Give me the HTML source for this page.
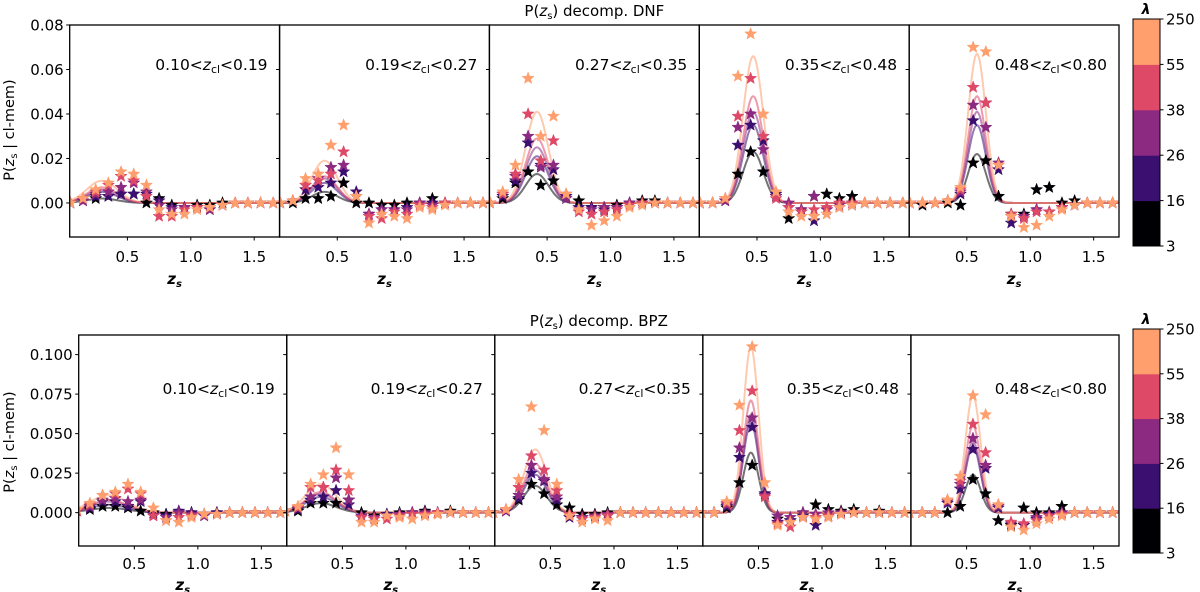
<!DOCTYPE html>
<html><head><meta charset="utf-8"><style>
html,body{margin:0;padding:0;background:#fff;}
svg{display:block;font-family:"DejaVu Sans","Liberation Sans",sans-serif;}
</style></head><body>
<svg id="fig" width="1200" height="592" viewBox="0 0 1200 592" xmlns="http://www.w3.org/2000/svg"></svg>
<script>
const zBins=[0.05,0.15,0.25,0.35,0.45,0.55,0.65,0.75,0.85,0.95,1.05,1.15,1.25,1.35,1.45,1.55,1.65];
const seriesColors=['#000004','#3b0f70','#8c2981','#de4968','#fe9f6d'];
const lambdaTicks=['3','16','26','38','55','250'];
const binLabels=['0.10','0.19','0.27','0.35','0.48','0.80'];
// DNF (values x 1e-3)
const dnfStars=[
 [[0,1,2,3,4,4,0,2,-1,-2,-1,-1,0,0,0,0,0],[0,1,3,3,4,4,4,1,-2,-2,-2,-3,-1,0,0,0,0],[0,1,4,5,7,9,5,-1,-3,-2,-2,-3,-1,0,0,0,0],[0,2,5,8,12,10,3,-6,-6,-3,-2,-2,-1,0,0,0,0],[0,2,6,9,14,13,8,-3,-5,-5,-3,-2,-1,0,0,0,0]],
 [[0,0,2,2,3,9,0,0,-1,-1,0,0,2,0,0,0,0],[0,1,6,7,9,14,5,-5,-3,-3,-2,0,0,0,0,0,0],[0,1,8,11,16,17,3,-5,-3,-3,-3,0,-1,0,0,0,0],[0,1,8,10,13,23,3,-6,-7,-4,-5,-1,-2,0,0,0,0],[0,1,11,13,26,35,3,-9,-5,-6,-7,-2,-3,-1,0,0,0]],
 [[0,2,9,14,8,10,2,1,-2,-2,-1,0,1,1,0,0,0],[0,3,10,27,17,15,3,-2,-2,-3,-2,0,0,0,0,0,0],[0,4,12,30,16,17,2,-3,-3,-2,-2,0,0,0,0,0,0],[0,4,13,40,19,28,4,-4,-5,-4,-3,-1,0,0,0,0,0],[0,5,17,56,30,39,4,-3,-10,-8,-6,-2,-1,0,0,0,0]],
 [[0,0,1,13,23,14,3,-7,-4,3,4,2,3,0,0,0,0],[0,0,1,26,35,28,4,-2,-3,-8,-3,-2,-1,0,0,0,0],[0,0,1,34,40,24,3,0,-3,3,-3,-1,0,0,0,0,0],[0,0,2,39,56,30,2,-2,-4,-3,-2,0,0,0,0,0,0],[0,0,2,57,76,40,5,-4,-6,-6,-5,-2,-1,0,0,0,0]],
 [[0,-1,0,0,-1,18,19,3,-5,-5,6,7,0,1,0,0,0],[0,0,0,1,4,37,45,15,-9,-6,-3,-4,-2,-1,0,0,0],[0,0,0,1,5,44,34,18,-6,-6,-3,-4,-2,-1,0,0,0],[0,0,0,1,6,52,45,17,-5,-7,-4,-4,-2,-1,0,0,0],[0,0,0,1,7,70,68,17,-6,-11,-10,-6,-3,-1,0,0,0]]
];
const dnfAmp=[[2,5,6,7,10],[5,9,11,12,19],[13,21,25,29,41],[23,35,41,48,66],[22,35,41,48,67]];
const dnfMu=[0.3,0.4,0.42,0.47,0.58];
const dnfSig=[0.12,0.1,0.09,0.08,0.07];
// BPZ (values x 1e-3)
const bpzStars=[
 [[1,2,4,4,3,1,0,-1,0,0,-1,0,0,0,0,0,0],[1,3,7,7,4,7,-1,-2,1,0,-2,0,0,0,0,0,0],[1,4,8,9,7,8,-2,-3,0,-1,-2,-1,0,0,0,0,0],[1,5,11,12,15,12,-2,-5,-3,-2,-1,-1,0,0,0,0,0],[2,6,11,13,18,13,3,-5,-6,-3,-1,-1,0,0,0,0,0]],
 [[1,1,6,6,6,8,0,-2,-1,0,0,1,0,1,0,0,0],[1,2,8,10,14,5,-2,-3,-1,-1,0,0,0,0,0,0,0],[1,3,10,16,22,8,-2,-3,-2,-1,0,0,0,0,0,0,0],[1,3,16,16,27,14,-3,-4,-4,-2,-1,-1,0,0,0,0,0],[1,4,18,24,41,24,-6,-6,-2,-3,-4,-2,-1,0,0,0,0]],
 [[0,1,8,18,12,5,3,-1,-1,0,0,0,0,0,0,0,0],[0,1,9,25,20,8,-3,-3,-2,-2,0,0,0,0,0,0,0],[0,1,11,30,21,10,-1,-3,-2,-1,0,0,0,0,0,0,0],[0,2,16,36,27,14,-1,-4,-3,-2,0,0,0,0,0,0,0],[0,2,21,67,52,18,-2,-6,-4,-5,0,0,0,0,0,0,0]],
 [[0,0,3,19,30,12,-4,-5,0,5,2,1,2,0,1,0,0],[0,0,4,35,54,12,-6,-5,-2,-8,-2,0,0,0,0,0,0],[0,0,5,41,60,11,-2,-3,0,-1,0,0,0,0,0,0,0],[0,0,6,52,77,10,-7,-9,-3,-3,-2,-1,0,0,0,0,0],[0,0,7,68,105,19,-8,-6,-3,-4,-3,-1,0,0,0,0,0]],
 [[0,0,0,0,4,21,12,-5,-8,3,0,0,4,0,0,0,0],[0,0,0,6,15,40,28,3,-7,-8,-4,-1,0,0,0,0,0],[0,0,0,7,18,47,30,4,-7,-7,-3,-2,0,0,0,0,0],[0,0,0,8,20,56,38,5,-6,-7,-5,-2,-1,0,0,0,0],[0,0,0,8,23,74,62,5,-9,-11,-7,-4,-2,0,0,0,0]]
];
const bpzAmp=[[3,5,7,8,11],[6,10,12,13,18],[17,24,27,31,40],[38,57,62,71,105],[24,42,45,55,74]];
const bpzMu=[0.3,0.33,0.38,0.44,0.55];
const bpzSig=[0.15,0.12,0.09,0.06,0.06];
const dnfYTicks=[0,0.02,0.04,0.06,0.08];
const bpzYTicks=[0,0.025,0.05,0.075,0.1];
const xTicks=[0.5,1.0,1.5];

const NS='http://www.w3.org/2000/svg';
const svg=document.getElementById('fig');
function mk(tag,attrs,parent){const e=document.createElementNS(NS,tag);for(const k in attrs)e.setAttribute(k,attrs[k]);(parent||svg).appendChild(e);return e;}
function starPath(cx,cy,R){let d='';const r=R*0.42;for(let i=0;i<10;i++){const a=-Math.PI/2+i*Math.PI/5;const rr=i%2?r:R;d+=(i?'L':'M')+(cx+rr*Math.cos(a)).toFixed(2)+','+(cy+rr*Math.sin(a)).toFixed(2);}return d+'Z';}

function drawRow(cfg){
  const {left,right,top,bottom,xmin,xmax,ymin,ymax,stars,amp,mu,sig,yTicks,yFmt,title,titleY,prefix,ylabY,tickY,zlabY,cbTop,cbBot,binY}=cfg;
  const pw=(right-left)/5;
  const yS=v=>bottom-(v-ymin)/(ymax-ymin)*(bottom-top);
  const t=mk('text',{x:(left+right)/2,y:titleY,'text-anchor':'middle','font-size':'15'});
  
  
  t.innerHTML=title;
  const yl=mk('text',{x:0,y:0,transform:`translate(14,${ylabY}) rotate(-90)`,'text-anchor':'middle','font-size':'14.5'});
  
  
  yl.innerHTML='P(<tspan font-style="italic">z</tspan><tspan font-size="10" dy="3">s</tspan><tspan dy="-3"> | cl-mem)</tspan>';
  for(let p=0;p<5;p++){
    const x0=left+p*pw;
    const xS=z=>x0+(z-xmin)/(xmax-xmin)*pw;
    const g=mk('g',{});
    
    
    const cid=prefix+'clip'+p;
    const cp=mk('clipPath',{id:cid},g);mk('rect',{x:x0,y:top,width:pw,height:bottom-top},cp);
    const pg=mk('g',{'clip-path':`url(#${cid})`},g);
    for(let s=0;s<5;s++){
      let d='';
      for(let i=0;i<=200;i++){const z=xmin+(xmax-xmin)*i/200;const v=amp[p][s]/1000*Math.exp(-0.5*((z-mu[p])/sig[p])**2);d+=(i?'L':'M')+xS(z).toFixed(2)+','+yS(v).toFixed(2);}
      const c=mk('path',{d:d,fill:'none',stroke:seriesColors[s],'stroke-width':2,'stroke-opacity':0.55},pg);
      
      
    }
    for(let s=0;s<5;s++){
      stars[p][s].forEach((v,i)=>{
        const st=mk('path',{d:starPath(xS(zBins[i]),yS(v/1000),6.3),fill:seriesColors[s],stroke:seriesColors[s],'stroke-width':0.5},pg);
        
        
      });
    }
    mk('rect',{x:x0,y:top,width:pw,height:bottom-top,fill:'none',stroke:'#000','stroke-width':1.3},g);
    yTicks.forEach(v=>{mk('line',{x1:x0-3.5,x2:x0,y1:yS(v),y2:yS(v),stroke:'#000','stroke-width':1},g);
      if(p===0){const tl=mk('text',{x:x0-6,y:yS(v)+5.5,'text-anchor':'end','font-size':'15'},g);
        
        
        tl.textContent=yFmt(v);}});
    xTicks.forEach(v=>{mk('line',{x1:xS(v),x2:xS(v),y1:bottom,y2:bottom+3.5,stroke:'#000','stroke-width':1},g);
      const tl=mk('text',{x:xS(v),y:tickY,'text-anchor':'middle','font-size':'15'},g);
      
      
      tl.textContent=v.toFixed(1);});
    const zl=mk('text',{x:x0+pw/2,y:zlabY,'text-anchor':'middle','font-size':'15','font-style':'italic','font-weight':'bold'},g);
    
    
    zl.innerHTML='z<tspan font-size="10" dy="3">s</tspan>';
    const bl=mk('text',{x:x0+pw-12,y:top+binY,'text-anchor':'end','font-size':'15.5'},g);
    
    
    bl.innerHTML=binLabels[p]+'&lt;<tspan font-style="italic">z</tspan><tspan font-size="11" dy="3">cl</tspan><tspan dy="-3">&lt;'+binLabels[p+1]+'</tspan>';
  }
  const cb=mk('g',{});
  
  
  const h=(cbBot-cbTop)/5;
  for(let s=0;s<5;s++){mk('rect',{x:1133,y:cbBot-(s+1)*h,width:27,height:h+0.5,fill:seriesColors[s]},cb);}
  mk('rect',{x:1133,y:cbTop,width:27,height:cbBot-cbTop,fill:'none',stroke:'#000','stroke-width':1},cb);
  lambdaTicks.forEach((l,i)=>{const y=cbBot-i*h;mk('line',{x1:1160,x2:1163.5,y1:y,y2:y,stroke:'#000'},cb);
    const tl=mk('text',{x:1166,y:y+5.5,'font-size':'15'},cb);
    
    
    tl.textContent=l;});
  const lt=mk('text',{x:1146,y:cbTop-5,'text-anchor':'middle','font-size':'14','font-style':'italic','font-weight':'bold'},cb);
  
  
  lt.textContent='λ';
}
drawRow({left:69.7,right:1119,top:25,bottom:237,xmin:0.045,xmax:1.7,ymin:-0.0153,ymax:0.08,stars:dnfStars,amp:dnfAmp,mu:dnfMu,sig:dnfSig,yTicks:dnfYTicks,yFmt:v=>v.toFixed(2),
  title:'P(<tspan font-style="italic">z</tspan><tspan font-size="10" dy="3">s</tspan><tspan dy="-3">) decomp. DNF</tspan>',titleY:16,prefix:'dnf',ylabY:130,tickY:262,zlabY:284,cbTop:19,cbBot:246,binY:45});
drawRow({left:78.7,right:1119,top:335,bottom:546,xmin:0.062,xmax:1.70,ymin:-0.0211,ymax:0.1124,stars:bpzStars,amp:bpzAmp,mu:bpzMu,sig:bpzSig,yTicks:bpzYTicks,yFmt:v=>v.toFixed(3),
  title:'P(<tspan font-style="italic">z</tspan><tspan font-size="10" dy="3">s</tspan><tspan dy="-3">) decomp. BPZ</tspan>',titleY:326,prefix:'bpz',ylabY:442,tickY:569,zlabY:590,cbTop:329,cbBot:553,binY:59});
</script>
</body></html>
